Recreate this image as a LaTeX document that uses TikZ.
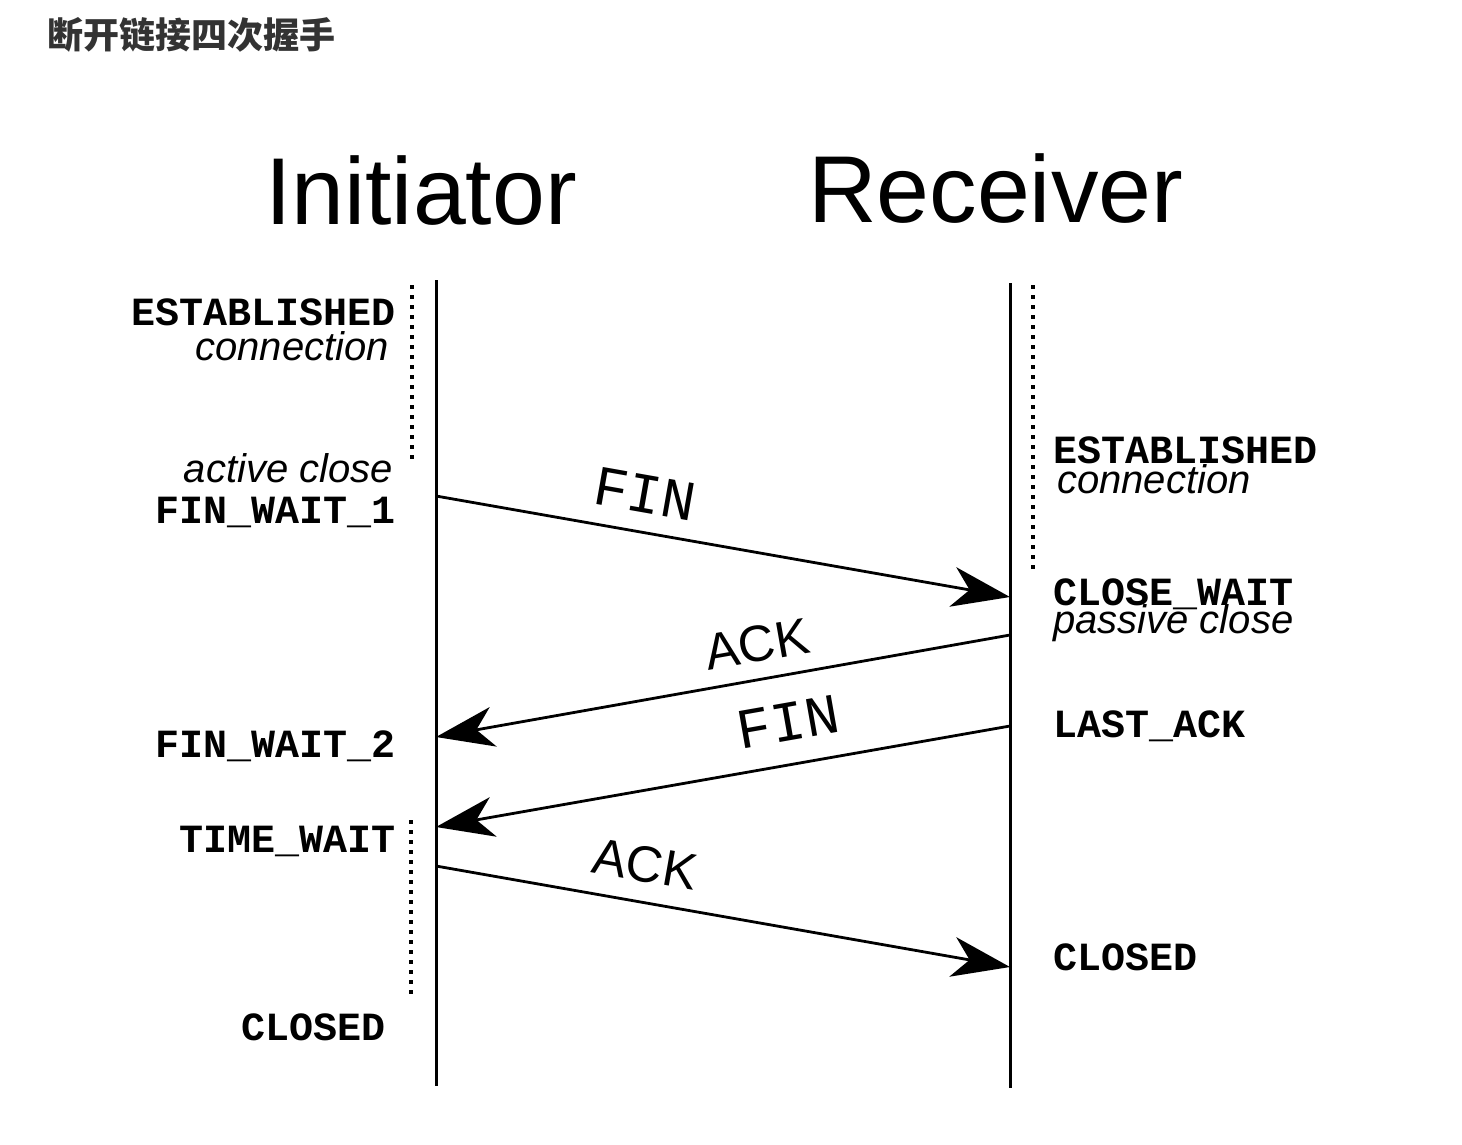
\documentclass[tikz,border=0pt]{standalone}
\usepackage{fontspec}
\setmainfont{Liberation Sans}
\newfontfamily\monofont{Liberation Mono}
\newfontfamily\cjk{Noto Sans CJK SC}
\usetikzlibrary{arrows.meta}
\definecolor{titlegray}{HTML}{333333}
\tikzset{
  lifeline/.style={line width=3pt},
  dotline/.style={line width=3.6pt, dash pattern=on 3.6pt off 6.4pt},
  msg/.style={line width=2.8pt, -{Stealth[length=58pt,width=40pt,inset=17pt]}},
  statelbl/.style={inner sep=0pt, font=\monofont\bfseries\fontsize{40}{48}\selectfont},
  notelbl/.style={inner sep=0pt, font=\itshape\fontsize{40}{48}\selectfont},
  finlbl/.style={inner sep=0pt, font=\monofont\fontsize{57}{64}\selectfont},
  acklbl/.style={inner sep=0pt, font=\fontsize{51}{60}\selectfont},
  headlbl/.style={inner sep=0pt, font=\fontsize{95}{110}\selectfont},
}
\begin{document}
\begin{tikzpicture}[x=1pt,y=-1pt]
\useasboundingbox (0,0) rectangle (1462,1144);
% title
\node[anchor=west, inner sep=0pt, text=titlegray, font=\cjk\bfseries\fontsize{36}{40}\selectfont] (title) at (47,35) {断开链接四次握手};
% headers
\node[headlbl, anchor=base west] (init) at (265,224) {Initiator};
\node[headlbl, anchor=base west] (recv) at (808,222) {Receiver};
% lifelines
\coordinate (lt) at (436,280);
\coordinate (lb) at (436,1086);
\coordinate (rt) at (1010,283);
\coordinate (rb) at (1010,1088);
\draw[lifeline] (lt) -- (lb);
\draw[lifeline] (rt) -- (rb);
% dotted lines
\coordinate (d1a) at (412,285);
\coordinate (d1b) at (412,459);
\coordinate (d2a) at (411,820);
\coordinate (d2b) at (411,998);
\coordinate (d3a) at (1033,285);
\coordinate (d3b) at (1033,572);
\draw[dotline] (d1a) -- (d1b);
\draw[dotline] (d2a) -- (d2b);
\draw[dotline] (d3a) -- (d3b);
% message endpoints
\coordinate (m1s) at (436,496);
\coordinate (m1e) at (1010,597);
\coordinate (m2s) at (1010,635);
\coordinate (m2e) at (436,737);
\coordinate (m3s) at (1010,726);
\coordinate (m3e) at (436,827);
\coordinate (m4s) at (436,866);
\coordinate (m4e) at (1010,967);
\draw[msg] (m1s) -- (m1e);
\draw[msg] (m2s) -- (m2e);
\draw[msg] (m3s) -- (m3e);
\draw[msg] (m4s) -- (m4e);
% message labels
\node[finlbl, rotate=-10] (fin1) at (645,494) {FIN};
\node[acklbl, rotate=10] (ack1) at (757,644) {ACK};
\node[finlbl, rotate=10] (fin2) at (788,722) {FIN};
\node[acklbl, rotate=-10] (ack2) at (645,864) {ACK};
% left states
\node[statelbl, anchor=base east] (lest) at (396,325) {ESTABLISHED};
\node[notelbl, anchor=base east] (lcon) at (389,360) {connection};
\node[notelbl, anchor=base east] (lact) at (393,482) {active close};
\node[statelbl, anchor=base east] (lfw1) at (396,523) {FIN\_WAIT\_1};
\node[statelbl, anchor=base east] (lfw2) at (396,757) {FIN\_WAIT\_2};
\node[statelbl, anchor=base east] (ltw) at (396,852) {TIME\_WAIT};
\node[statelbl, anchor=base east] (lcl) at (386,1040) {CLOSED};
% right states
\node[statelbl, anchor=base west] (rest) at (1053,463) {ESTABLISHED};
\node[notelbl, anchor=base west] (rcon) at (1057,493) {connection};
\node[statelbl, anchor=base west] (rcw) at (1053,605) {CLOSE\_WAIT};
\node[notelbl, anchor=base west] (rpc) at (1053,633) {passive close};
\node[statelbl, anchor=base west] (rla) at (1053,737) {LAST\_ACK};
\node[statelbl, anchor=base west] (rcl) at (1053,970) {CLOSED};
\end{tikzpicture}
\end{document}
